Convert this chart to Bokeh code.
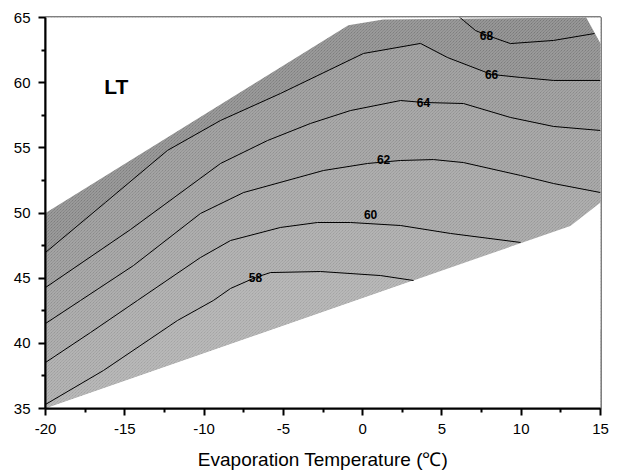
from bokeh.plotting import figure
from bokeh.models import Range1d, FixedTicker
from bokeh.core.properties import value
from bokeh.embed import file_html
from bokeh.resources import INLINE

# ---- data ----
x_ticks = [-20, -15, -10, -5, 0, 5, 10, 15]
y_ticks = [35, 40, 45, 50, 55, 60, 65]

levels = [58, 60, 62, 64, 66, 68]

c58_x = [-20, -16.34, -11.68, -9.41, -8.33, -6.76, -5.81, -2.66, 1.13, 3.21]
c58_y = [35.31, 37.92, 41.75, 43.29, 44.21, 45.05, 45.43, 45.51, 45.20, 44.82]

c60_x = [-20, -17.16, -14.20, -10.23, -8.33, -5.18, -2.85, -0.77, 2.39, 5.54, 9.96]
c60_y = [38.53, 40.83, 43.29, 46.58, 47.89, 48.89, 49.27, 49.27, 49.04, 48.43, 47.74]

c62_x = [-20, -17.79, -14.45, -10.23, -7.51, -2.47, 0.31, 2.39, 4.47, 6.36, 9.96, 12.04, 15]
c62_y = [41.52, 43.29, 45.97, 49.96, 51.57, 53.26, 53.80, 54.03, 54.10, 53.87, 52.88, 52.26, 51.57]

c64_x = [-20, -14.64, -8.96, -6.00, -3.29, -0.77, 2.39, 3.84, 6.36, 9.32, 12.04, 15]
c64_y = [44.28, 48.73, 53.80, 55.56, 56.87, 57.86, 58.63, 58.48, 58.40, 57.33, 56.64, 56.33]

c66_x = [-20, -16.22, -12.31, -8.96, -5.18, 0.05, 3.65, 5.35, 8.13, 9.96, 12.04, 15]
c66_y = [46.97, 50.81, 54.80, 57.10, 59.17, 62.24, 63.01, 61.93, 60.63, 60.40, 60.17, 60.17]

c68_x = [5.92, 6.36, 7.12, 7.87, 9.32, 12.04, 14.62]
c68_y = [65.23, 64.77, 64.00, 63.62, 63.00, 63.24, 63.77]

contours_x = [c58_x, c60_x, c62_x, c64_x, c66_x, c68_x]
contours_y = [c58_y, c60_y, c62_y, c64_y, c66_y, c68_y]

label_x = [-6.76, 0.50, 1.32, 3.84, 8.13, 7.81]
label_y = [45.05, 49.88, 54.10, 58.48, 60.63, 63.62]
label_text = ["58", "60", "62", "64", "66", "68"]

boundary_x = [-20, 10, 13.1, 15, 15, 14.1, 1.3, -0.9, -20]
boundary_y = [35, 47.7, 49.0, 50.8, 63.0, 65.0, 64.85, 64.4, 50]

band_colors = ["#9a9a9a", "#939393", "#8c8c8c", "#858585", "#7d7d7d", "#6f6f6f", "#6a6a6a"]

# ---- figure ----
p = figure(width=620, height=472, output_backend="svg", toolbar_location=None,
           x_range=Range1d(-20, 15), y_range=Range1d(35, 65),
           min_border_left=45, min_border_right=20, min_border_top=17, min_border_bottom=64)
p.background_fill_color = "white"
p.border_fill_color = "white"
p.grid.visible = False
p.outline_line_color = "black"
p.outline_line_width = 2

hatch = dict(hatch_pattern="\\", hatch_color="white", hatch_alpha=0.4, hatch_scale=3, hatch_weight=1)

# base band (below lowest level)
p.patch(boundary_x, boundary_y, fill_color=band_colors[0], line_color=None, **hatch)

# layers: region above each contour level
for i, (cx, cy) in enumerate(zip(contours_x, contours_y)):
    xe, ye = cx[-1], cy[-1]
    xs0, ys0 = cx[0], cy[0]
    if xe < 14.5:
        close_y = [ye - 20, 80, 80, ys0]
    else:
        close_y = [ye, 80, 80, ys0]
    close_x = [25, 25, xs0 - 5, xs0 - 5]
    p.patch(list(cx) + close_x, list(cy) + close_y, fill_color=band_colors[i + 1],
            line_color=None, **hatch)

# white mask outside the data region
p.multi_polygons(xs=[[[[-40, 40, 40, -40], boundary_x]]],
                 ys=[[[[20, 20, 90, 90], boundary_y]]],
                 fill_color="white", line_color=None)

# contour lines
for cx, cy in zip(contours_x, contours_y):
    p.line(cx, cy, line_color="black", line_width=1)

# contour labels
p.text(label_x, label_y, text=label_text, text_font=value("Liberation Sans"),
       text_font_size="12px", text_font_style="bold", text_align="center",
       text_baseline="middle", text_color="black")

# LT
p.text([-16.3], [59.7], text=["LT"], text_font=value("Liberation Sans"),
       text_font_size="21px", text_font_style="bold", text_align="left",
       text_baseline="middle", text_color="black")

# axes
for ax in (p.xaxis[0], p.yaxis[0]):
    ax.axis_line_width = 2
    ax.axis_line_color = "black"
    ax.major_tick_line_width = 2
    ax.minor_tick_line_width = 2
    ax.major_tick_line_color = "black"
    ax.minor_tick_line_color = "black"
    ax.major_tick_out = 7
    ax.major_tick_in = 0
    ax.minor_tick_out = 4
    ax.minor_tick_in = 0
    ax.major_label_text_font = "Liberation Sans"
    ax.major_label_text_font_size = "15px"
    ax.major_label_text_color = "black"
    ax.major_label_standoff = 8

p.xaxis.ticker = FixedTicker(ticks=x_ticks, minor_ticks=[-17.5, -12.5, -7.5, -2.5, 2.5, 7.5, 12.5])
p.yaxis.ticker = FixedTicker(ticks=y_ticks, minor_ticks=[37.5, 42.5, 47.5, 52.5, 57.5, 62.5])
p.xaxis.major_label_overrides = {t: str(t) for t in x_ticks}
p.yaxis.major_label_overrides = {t: str(t) for t in y_ticks}
p.xaxis.axis_label = "Evaporation Temperature (℃)"
p.xaxis.axis_label_text_font = "Liberation Sans"
p.xaxis.axis_label_text_font_size = "19px"
p.xaxis.axis_label_text_font_style = "normal"
p.xaxis.axis_label_text_color = "black"
p.xaxis.axis_label_standoff = 12

open("out.html", "w").write(file_html(p, INLINE))
